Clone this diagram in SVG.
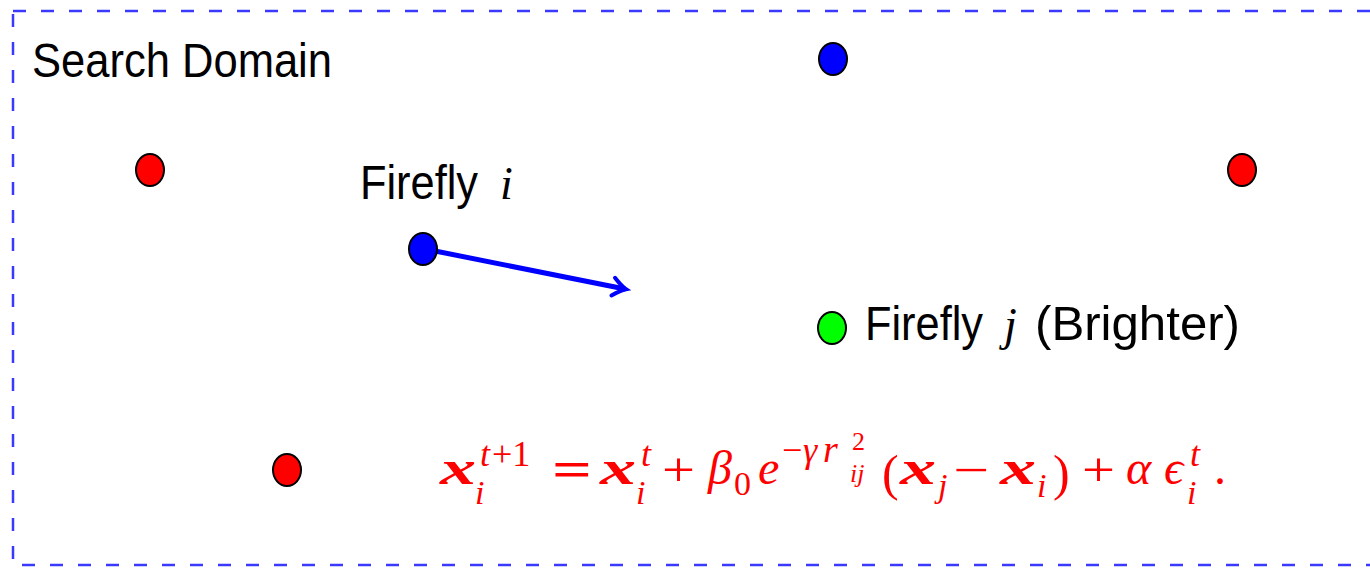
<svg xmlns="http://www.w3.org/2000/svg" width="1370" height="568" viewBox="0 0 1370 568">
<style>
.lbl{font-family:"Liberation Sans","DejaVu Sans",sans-serif;font-size:48px;fill:#000}
.mi{font-family:"Liberation Serif","DejaVu Serif",serif;font-style:italic;fill:#000}
.dot{stroke:#000;stroke-width:2}
.red{fill:#ff0000}.blue{fill:#0000ff}.green{fill:#00ff00}
.f{font-family:"Liberation Serif","DejaVu Serif",serif;fill:#ff0000}
.bi{font-weight:bold;font-style:italic}
.it{font-style:italic}
</style>
<defs>
<marker id="arr" markerUnits="userSpaceOnUse" markerWidth="30" markerHeight="30" refX="0" refY="0" viewBox="-20 -15 30 30" orient="auto">
<path d="M -12 -9 Q -4 -2 1 0 Q -4 2 -12 9" fill="none" stroke="#0000ff" stroke-width="4" stroke-linecap="round"/>
</marker>
</defs>
<rect x="13" y="11" width="1400" height="554" fill="none" stroke="#3a3aff" stroke-width="2.5" stroke-dasharray="13 15"/>
<text class="lbl" x="32" y="77" textLength="300" lengthAdjust="spacingAndGlyphs">Search Domain</text>
<g id="conn">
<line x1="430" y1="250" x2="625" y2="289" stroke="#0000ff" stroke-width="5" marker-end="url(#arr)"/>
</g>
<g id="n_top_blue"><ellipse class="dot blue" cx="833" cy="59" rx="14" ry="16"/></g>
<g id="n_red_left"><ellipse class="dot red" cx="150" cy="170" rx="14" ry="16"/></g>
<g id="n_red_right"><ellipse class="dot red" cx="1242" cy="170" rx="14" ry="16"/></g>
<g id="n_red_bottom"><ellipse class="dot red" cx="287" cy="470" rx="14" ry="16"/></g>
<g id="n_firefly_i">
<ellipse class="dot blue" cx="423" cy="249" rx="14" ry="16"/>
<text class="lbl" x="360" y="199" textLength="118" lengthAdjust="spacingAndGlyphs">Firefly</text>
<text class="mi" x="500" y="199" font-size="46">i</text>
</g>
<g id="n_firefly_j">
<ellipse class="dot green" cx="832" cy="328" rx="14" ry="16"/>
<text class="lbl" x="865" y="340" textLength="118" lengthAdjust="spacingAndGlyphs">Firefly</text>
<text class="mi" x="1004" y="340" font-size="46">j</text>
<text class="lbl" x="1035" y="340" textLength="205" lengthAdjust="spacingAndGlyphs">(Brighter)</text>
</g>
<g id="formula" class="f">
<text class="bi" x="440" y="484" font-size="48" textLength="36" lengthAdjust="spacingAndGlyphs">x</text>
<text class="it" x="480" y="466" font-size="36">t</text>
<text x="492" y="466" font-size="36">+1</text>
<text class="it" x="475" y="504" font-size="34">i</text>
<text x="552" y="486" font-size="50" font-weight="bold" textLength="40" lengthAdjust="spacingAndGlyphs">=</text>
<text class="bi" x="600" y="484" font-size="48" textLength="36" lengthAdjust="spacingAndGlyphs">x</text>
<text class="it" x="641" y="466" font-size="36">t</text>
<text class="it" x="636" y="504" font-size="34">i</text>
<text x="662" y="486" font-size="48" textLength="33" lengthAdjust="spacingAndGlyphs">+</text>
<text class="it" x="708" y="484" font-size="48">β</text>
<text x="734" y="495" font-size="34">0</text>
<text class="it" x="758" y="484" font-size="48">e</text>
<text x="782" y="462" font-size="36">−</text>
<text class="it" x="803" y="462" font-size="36">γ</text>
<text class="it" x="823" y="462" font-size="38">r</text>
<text x="852" y="450" font-size="26">2</text>
<text class="it" x="850" y="482" font-size="26">ij</text>
<text x="882" y="490" font-size="50">(</text>
<text class="bi" x="900" y="484" font-size="48" textLength="36" lengthAdjust="spacingAndGlyphs">x</text>
<text class="it" x="938" y="497" font-size="34">j</text>
<text x="953" y="486" font-size="48" textLength="36" lengthAdjust="spacingAndGlyphs">−</text>
<text class="bi" x="1000" y="484" font-size="48" textLength="36" lengthAdjust="spacingAndGlyphs">x</text>
<text class="it" x="1037" y="497" font-size="34">i</text>
<text x="1053" y="490" font-size="50">)</text>
<text x="1082" y="486" font-size="48" textLength="33" lengthAdjust="spacingAndGlyphs">+</text>
<text class="it" x="1126" y="484" font-size="48">α</text>
<text class="it" x="1164" y="484" font-size="48">ϵ</text>
<text class="it" x="1190" y="466" font-size="36">t</text>
<text class="it" x="1187" y="504" font-size="34">i</text>
<text x="1214" y="484" font-size="48">.</text>
</g>
</svg>
